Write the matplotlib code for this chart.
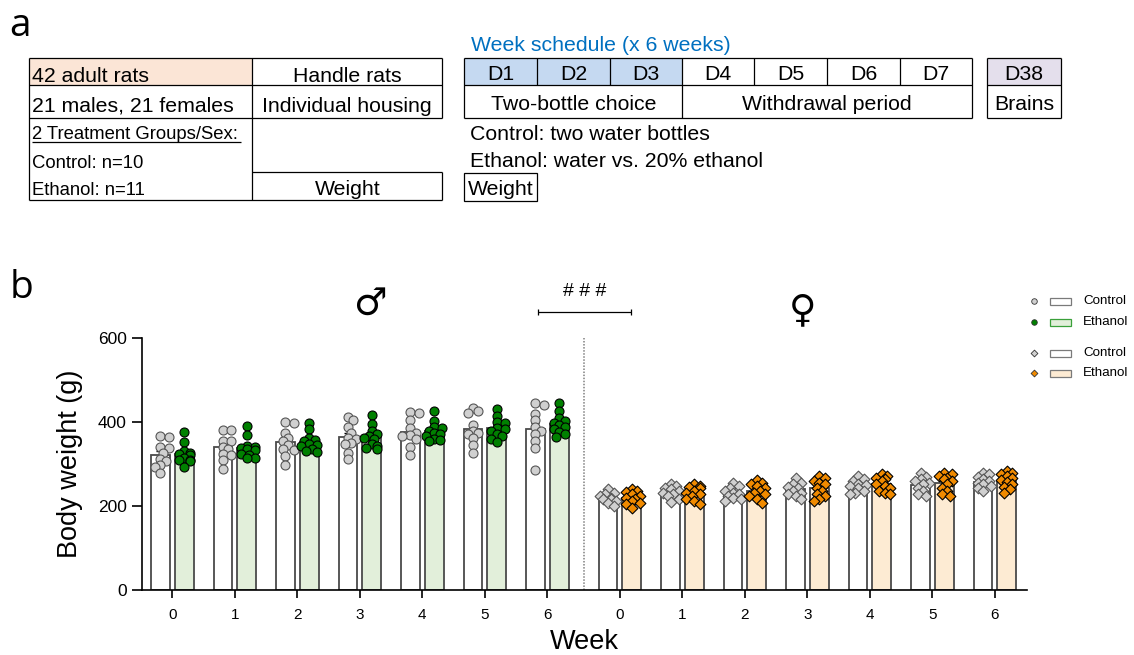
import matplotlib
matplotlib.use('Agg')
import matplotlib.pyplot as plt
from matplotlib.patches import Rectangle
import numpy as np

plt.rcParams['font.family'] = ['Liberation Sans', 'DejaVu Sans']

# ---- data: body weight (g) per rat, weeks 0-6 ----
weeks = [0, 1, 2, 3, 4, 5, 6]

male_ctrl = [
    [367, 365, 340, 339, 327, 313, 307, 299, 294, 279],
    [381, 381, 356, 355, 340, 336, 325, 323, 311, 289],
    [400, 398, 375, 363, 355, 345, 335, 334, 319, 298],
    [412, 406, 388, 375, 363, 360, 351, 347, 327, 313],
    [425, 422, 405, 386, 375, 369, 367, 359, 341, 321],
    [433, 426, 422, 393, 379, 375, 371, 363, 345, 327],
    [445, 442, 420, 406, 388, 379, 371, 355, 339, 287],
]
male_eth = [
    [376, 352, 331, 327, 325, 323, 315, 311, 309, 307, 294],
    [392, 369, 343, 340, 339, 335, 333, 325, 323, 315, 315],
    [398, 383, 363, 357, 355, 348, 345, 343, 335, 331, 329],
    [416, 395, 379, 371, 367, 363, 359, 347, 343, 339, 336],
    [426, 404, 389, 386, 379, 375, 371, 367, 361, 357, 355],
    [432, 414, 400, 398, 386, 383, 379, 372, 367, 361, 353],
    [446, 426, 409, 402, 398, 393, 388, 383, 376, 371, 364],
]
female_ctrl = [
    [240, 232, 228, 224, 220, 218, 216, 212, 208, 200],
    [253, 248, 244, 240, 236, 232, 228, 224, 218, 210],
    [256, 248, 244, 237, 232, 228, 224, 220, 216, 212],
    [267, 256, 253, 246, 244, 237, 232, 228, 224, 218],
    [271, 264, 260, 253, 250, 248, 244, 237, 232, 228],
    [279, 269, 264, 260, 256, 252, 244, 236, 228, 224],
    [280, 276, 270, 265, 260, 256, 252, 248, 242, 236],
]
female_eth = [
    [240, 236, 234, 228, 224, 220, 216, 212, 208, 204, 196],
    [252, 248, 245, 242, 237, 232, 228, 224, 218, 212, 206],
    [262, 256, 253, 248, 244, 236, 232, 228, 224, 216, 208],
    [271, 266, 261, 256, 252, 244, 236, 228, 224, 216, 212],
    [276, 271, 267, 264, 260, 253, 248, 244, 237, 232, 228],
    [279, 276, 271, 267, 264, 260, 252, 244, 236, 228, 224],
    [284, 280, 276, 272, 266, 262, 258, 252, 246, 240, 232],
]

# colours
c_gray = '#d0d0d0'
c_green = '#008000'
c_orange = '#f08a00'
fill_green = '#e2efda'
fill_orange = '#fdebd3'
bar_edge = '#4a4a4a'

fig = plt.figure(figsize=(11.34, 6.55), dpi=100)

# background axes in pixel coordinates for panel a, legend and annotations
bg = fig.add_axes([0, 0, 1, 1], zorder=0)
bg.set_xlim(0, 1134)
bg.set_ylim(655, 0)
bg.axis('off')


def hline(y, x0, x1):
    bg.plot([x0, x1], [y, y], color='black', lw=0.9, solid_capstyle='butt')


def vline(x, y0, y1):
    bg.plot([x, x], [y0, y1], color='black', lw=0.9, solid_capstyle='butt')


def fill(x0, y0, x1, y1, color):
    bg.add_patch(Rectangle((x0, y0), x1 - x0, y1 - y0, facecolor=color, edgecolor='none'))


big = 15.3
small = 13.3

# panel labels
bg.text(9, 36, 'a', fontsize=28, family='Open Sans', va='baseline')
bg.text(10, 298, 'b', fontsize=28, family='Open Sans', va='baseline')

# ---- left table ----
L0, L1, L2 = 29.3, 252.3, 442.3
R = [58.3, 85, 117.7, 172.3, 200]
fill(L0, R[0], L1, R[1], '#fbe5d6')
for y in R[:3] + [R[4]]:
    hline(y, L0, L2)
hline(R[3], L1, L2)
vline(L0, R[0], R[4])
vline(L1, R[0], R[4])
vline(L2, R[0], R[2])
vline(L2, R[3], R[4])
bg.text(32.3, 81.7, '42 adult rats', fontsize=big)
bg.text((L1 + L2) / 2, 81.7, 'Handle rats', fontsize=big, ha='center')
bg.text(32.3, 111.7, '21 males, 21 females', fontsize=big)
bg.text((L1 + L2) / 2, 111.7, 'Individual housing', fontsize=big, ha='center')
bg.text(32.3, 139.3, '2 Treatment Groups/Sex:', fontsize=small)
hline(142.3, 32.3, 240.7)
bg.text(32.3, 168.3, 'Control: n=10', fontsize=small)
bg.text(32.3, 195, 'Ethanol: n=11', fontsize=small)
bg.text((L1 + L2) / 2, 195, 'Weight', fontsize=big, ha='center')

# ---- schedule table ----
bg.text(471, 50.7, 'Week schedule (x 6 weeks)', fontsize=big, color='#0070c0')
cols = [464.3, 537.3, 609.7, 682.3, 754.3, 827.3, 900, 972.3]
day_labels = ['D1', 'D2', 'D3', 'D4', 'D5', 'D6', 'D7']
fill(cols[0], R[0], cols[3], R[1], '#c5d9f1')
for y in R[:3]:
    hline(y, cols[0], cols[-1])
for i, x in enumerate(cols):
    if i in (0, 3, 7):
        vline(x, R[0], R[2])
    else:
        vline(x, R[0], R[1])
for i, lab in enumerate(day_labels):
    bg.text((cols[i] + cols[i + 1]) / 2, 80, lab, fontsize=big, ha='center')
bg.text((cols[0] + cols[3]) / 2, 110, 'Two-bottle choice', fontsize=big, ha='center')
bg.text((cols[3] + cols[7]) / 2, 110, 'Withdrawal period', fontsize=big, ha='center')

d0, d1 = 987.3, 1060.7
fill(d0, R[0], d1, R[1], '#e4dfec')
for y in R[:3]:
    hline(y, d0, d1)
vline(d0, R[0], R[2])
vline(d1, R[0], R[2])
bg.text((d0 + d1) / 2, 80, 'D38', fontsize=big, ha='center')
bg.text((d0 + d1) / 2, 110, 'Brains', fontsize=big, ha='center')

bg.text(470, 140, 'Control: two water bottles', fontsize=big)
bg.text(470, 166.7, 'Ethanol: water vs. 20% ethanol', fontsize=big)
bg.add_patch(Rectangle((464.3, 172.7), 73, 28, facecolor='none', edgecolor='black', lw=0.9))
bg.text(468.3, 195, 'Weight', fontsize=big)

# ---- legend ----
leg = [('o', c_gray, 'white', 301), ('o', c_green, fill_green, 322),
       ('D', c_gray, 'white', 353), ('D', c_orange, fill_orange, 373)]
leg_edge = ['#7a7a7a', '#3aa03a', '#7a7a7a', '#7a7a7a']
for (m, mc, bc, y), be, lab in zip(leg, leg_edge, ['Control', 'Ethanol', 'Control', 'Ethanol']):
    bg.scatter([1034.3], [y], marker=m, s=16 if m == 'o' else 12, facecolor=mc,
               edgecolor='#333333', linewidth=0.6)
    bg.add_patch(Rectangle((1050, y - 3.5), 20.7, 7, facecolor=bc, edgecolor=be, lw=0.9))
    bg.text(1083, y, lab, fontsize=9.6, va='center')

# ---- annotations ----
bg.text(370, 305, '\u2642', fontsize=27, family=['DejaVu Sans'], ha='center', va='center')
bg.text(802.7, 311, '\u2640', fontsize=27, family=['DejaVu Sans'], ha='center', va='center')
bg.text(584.3, 291.7, '# # #', fontsize=14, ha='center', va='center')
hline(311.7, 537.7, 631)
vline(537.7, 308.7, 314.7)
vline(631, 308.7, 314.7)

# ---- panel b ----
ax_l, ax_r, ax_t, ax_b = 141.7, 1027, 338.3, 590
ax = fig.add_axes([ax_l / 1134, 1 - ax_b / 655, (ax_r - ax_l) / 1134, (ax_b - ax_t) / 655], zorder=1)
ax.patch.set_alpha(0)

unit_px = 62.5
x_m = np.array(weeks, dtype=float)
x_f = x_m + 7.163
off = 0.19
bw = 0.30
ax.set_xlim((ax_l - 172.3) / unit_px, (ax_r - 172.3) / unit_px)
ax.set_ylim(0, 600)
ppy = (ax_b - ax_t) / 600.0


def swarm(vals, d_px=9.0, max_px=9):
    # simple beeswarm: shift each point sideways until it barely overlaps the others
    vals = np.asarray(vals, dtype=float)
    order = np.argsort(-vals)
    placed = []
    offs = np.zeros(len(vals))
    gap = d_px * 0.62
    step = d_px * 0.3
    cands = [0.0]
    for k in range(1, 10):
        cands += [k * step, -k * step]
    cands = [c for c in cands if abs(c) <= max_px]
    for i in order:
        y = vals[i] * ppy

        def clash(c):
            return sum(1 for px, py in placed if (c - px) ** 2 + (y - py) ** 2 < gap ** 2)
        best = next((c for c in cands if clash(c) == 0), None)
        if best is None:
            best = min(cands, key=clash)
        placed.append((best, y))
        offs[i] = best
    return offs / unit_px


groups = [
    (x_m - off, male_ctrl, 'white', 'o', c_gray, '#555555', 42),
    (x_m + off, male_eth, fill_green, 'o', c_green, 'black', 42),
    (x_f - off, female_ctrl, 'white', 'D', c_gray, '#555555', 30),
    (x_f + off, female_eth, fill_orange, 'D', c_orange, 'black', 30),
]
for xs, data, bcol, mk, mcol, medge, ms in groups:
    means = [np.mean(v) for v in data]
    sems = [np.std(v, ddof=1) / np.sqrt(len(v)) for v in data]
    ax.bar(xs, means, width=bw, color=bcol, edgecolor=bar_edge, linewidth=1.3, zorder=2)
    ax.errorbar(xs, means, yerr=sems, fmt='none', ecolor='black', elinewidth=1,
                capsize=3, capthick=1, zorder=3)
    for x, v in zip(xs, data):
        ax.scatter(x + swarm(v), v, marker=mk, s=ms, facecolor=mcol, edgecolor=medge,
                   linewidth=0.8, zorder=4)

sep = ((x_m[-1] + off + bw / 2) + (x_f[0] - off - bw / 2)) / 2
ax.plot([sep, sep], [0, 600], color='#808080', lw=1.1, ls=(0, (1, 1)), zorder=1)

ax.spines['top'].set_visible(False)
ax.spines['right'].set_visible(False)
for s in ('left', 'bottom'):
    ax.spines[s].set_linewidth(1.2)
ax.set_yticks([0, 200, 400, 600])
ax.set_xticks(np.concatenate([x_m, x_f]))
ax.set_xticklabels([str(w) for w in weeks] * 2)
ax.tick_params(axis='y', length=7.2, width=1.2, labelsize=12.5, pad=3.5)
ax.tick_params(axis='x', length=5.8, width=1.2, labelsize=11, pad=7)
ax.set_ylabel('Body weight (g)', fontsize=19.5, labelpad=11)
ax.set_xlabel('Week', fontsize=19.5, labelpad=5)

fig.savefig('out.png', dpi=100)
